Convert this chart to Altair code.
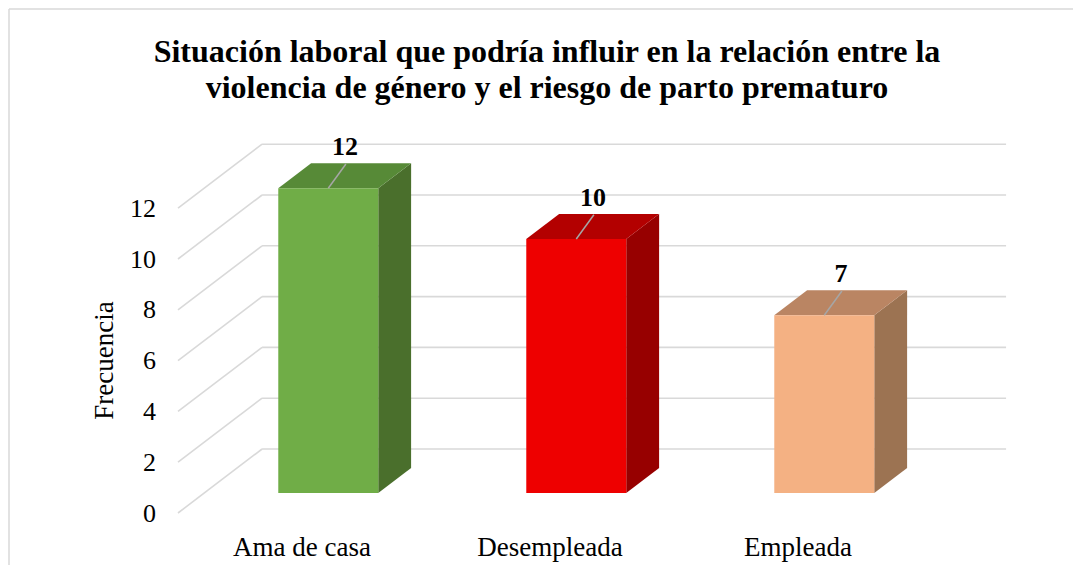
import altair as alt
import pandas as pd

# ---------------- data ----------------
categories = ["Ama de casa", "Desempleada", "Empleada"]
values = [12, 10, 7]
y_ticks = [0, 2, 4, 6, 8, 10, 12]
front_colors = ["#70AD47", "#EE0000", "#F4B183"]
top_colors = ["#578A37", "#B30000", "#BA8563"]
side_colors = ["#4A6F2C", "#970000", "#9C7352"]
title_lines = ["Situación laboral que podría influir en la relación entre la",
               "violencia de género y el riesgo de parto prematuro"]
y_title = "Frecuencia"

# ---------------- 3D projection settings (style) ----------------
DX = 0.339      # x shift (category units) over full floor depth
DY = 2.52       # y shift (value units) over full floor depth
D_FRONT = 0.3125
D_BACK = 0.703
HALF_W = 0.2016
XMIN, XMAX = -0.55, 2.9
YMIN, YMAX = -1.6, 15.0
PX_X, PX_Y = 248.0, 25.4
W = PX_X * (XMAX - XMIN)
H = PX_Y * (YMAX - YMIN)
LEFT_PAD, TOP_PAD = 157.6, 124.0
FONT = "Liberation Serif"

xscale = alt.Scale(domain=[XMIN, XMAX], nice=False, zero=False)
yscale = alt.Scale(domain=[YMIN, YMAX], nice=False, zero=False)
yaxis = alt.Axis(values=y_ticks, domain=False, ticks=False, grid=False,
                 labelFont=FONT, labelFontSize=26, labelColor="#000000",
                 labelPadding=10, title=y_title, titleFont=FONT,
                 titleFontSize=27, titleFontWeight="normal", titleColor="#000000",
                 titlePadding=11, titleY=228)


def X(f):
    return alt.X(f, type="quantitative", scale=xscale, axis=None)


def Y(f):
    return alt.Y(f, type="quantitative", scale=yscale, axis=yaxis)


keys, cols = [], []
front_rows, top_rows, side_rows = [], [], []
for i, (c, v) in enumerate(zip(categories, values)):
    kf, kt, ks = f"f{i}", f"t{i}", f"s{i}"
    keys += [kf, kt, ks]
    cols += [front_colors[i], top_colors[i], side_colors[i]]
    front_rows.append(dict(key=kf, x=i - HALF_W + DX * D_FRONT, x2=i + HALF_W + DX * D_FRONT,
                           y=DY * D_FRONT, y2=v + DY * D_FRONT))
    for d in (D_FRONT, D_BACK):
        top_rows.append(dict(key=kt, y=v + DY * d, x=i - HALF_W + DX * d, x2=i + HALF_W + DX * d))
        side_rows.append(dict(key=ks, x=i + HALF_W + DX * d, y=DY * d, y2=v + DY * d))

front_df = pd.DataFrame(front_rows)
top_df = pd.DataFrame(top_rows)
side_df = pd.DataFrame(side_rows)

color = alt.Color("key:N", scale=alt.Scale(domain=keys, range=cols), legend=None)

grid_rows = []
for t in y_ticks:
    grid_rows.append(dict(x=-0.5 + DX, x2=2.5 + DX, y=t + DY, y2=t + DY))
    grid_rows.append(dict(x=-0.5, x2=-0.5 + DX, y=t, y2=t + DY))
grid_df = pd.DataFrame(grid_rows)

lab_df = pd.DataFrame(dict(cat=categories, x=list(range(len(categories))), y=[-1.38] * 3))
val_df = pd.DataFrame(dict(val=values,
                           x=[i + 0.173 for i in range(len(values))],
                           y=[v + 2.4 for v in values],
                           lx=[i + DX * D_FRONT for i in range(len(values))],
                           ly=[v + DY * D_FRONT for v in values],
                           lx2=[i + 0.177 for i in range(len(values))],
                           ly2=[v + 1.74 for v in values]))

grid = alt.Chart(grid_df).mark_rule(color="#D9D9D9", strokeWidth=1.6).encode(
    x=X("x"), x2="x2", y=Y("y"), y2="y2")

front = alt.Chart(front_df).mark_rect().encode(
    x=X("x"), x2="x2", y=Y("y"), y2="y2", color=color)

top = alt.Chart(top_df).mark_area(orient="horizontal").encode(
    y=Y("y"), x=X("x"), x2="x2", color=color, detail="key:N")

side = alt.Chart(side_df).mark_area(orient="vertical").encode(
    x=X("x"), y=Y("y"), y2="y2", color=color, detail="key:N")

leader = alt.Chart(val_df).mark_rule(color="#A6A6A6", strokeWidth=1.5).encode(
    x=X("lx"), x2="lx2", y=Y("ly"), y2="ly2")

vlabels = alt.Chart(val_df).mark_text(font=FONT, fontSize=26, fontWeight="bold",
                                      color="#000000", baseline="middle").encode(
    x=X("x"), y=Y("y"), text="val:Q")

clabels = alt.Chart(lab_df).mark_text(font=FONT, fontSize=27, color="#000000",
                                      baseline="middle").encode(
    x=X("x"), y=Y("y"), text="cat:N")

# chart title as text (page pixel positions converted to plot-relative)
title_layers = []
for line, py in zip(title_lines, [52, 88]):
    title_layers.append(
        alt.Chart().mark_text(font=FONT, fontSize=32, fontWeight="bold", color="#000000",
                              align="center", baseline="middle").encode(
            x=alt.value(547 - 8 - LEFT_PAD), y=alt.value(py - 8 - TOP_PAD), text=alt.value(line)))

border_top = alt.Chart().mark_rule(color="#D9D9D9", strokeWidth=1.5).encode(
    x=alt.value(9 - 8 - LEFT_PAD), x2=alt.value(1000), y=alt.value(9 - 8 - TOP_PAD))
border_left = alt.Chart().mark_rule(color="#D9D9D9", strokeWidth=1.5).encode(
    x=alt.value(9 - 8 - LEFT_PAD), y=alt.value(9 - 8 - TOP_PAD), y2=alt.value(460))

chart = alt.layer(grid, side, top, front, leader, vlabels, clabels,
                  *title_layers, border_top, border_left).properties(
    width=W, height=H,
    autosize=alt.AutoSizeParams(type="none"),
    padding={"left": LEFT_PAD, "top": TOP_PAD, "right": 1065 - LEFT_PAD - W,
             "bottom": 557 - TOP_PAD - H},
).configure_view(stroke=None)

chart.save("out.html", embed_options={"renderer": "svg", "actions": False})
